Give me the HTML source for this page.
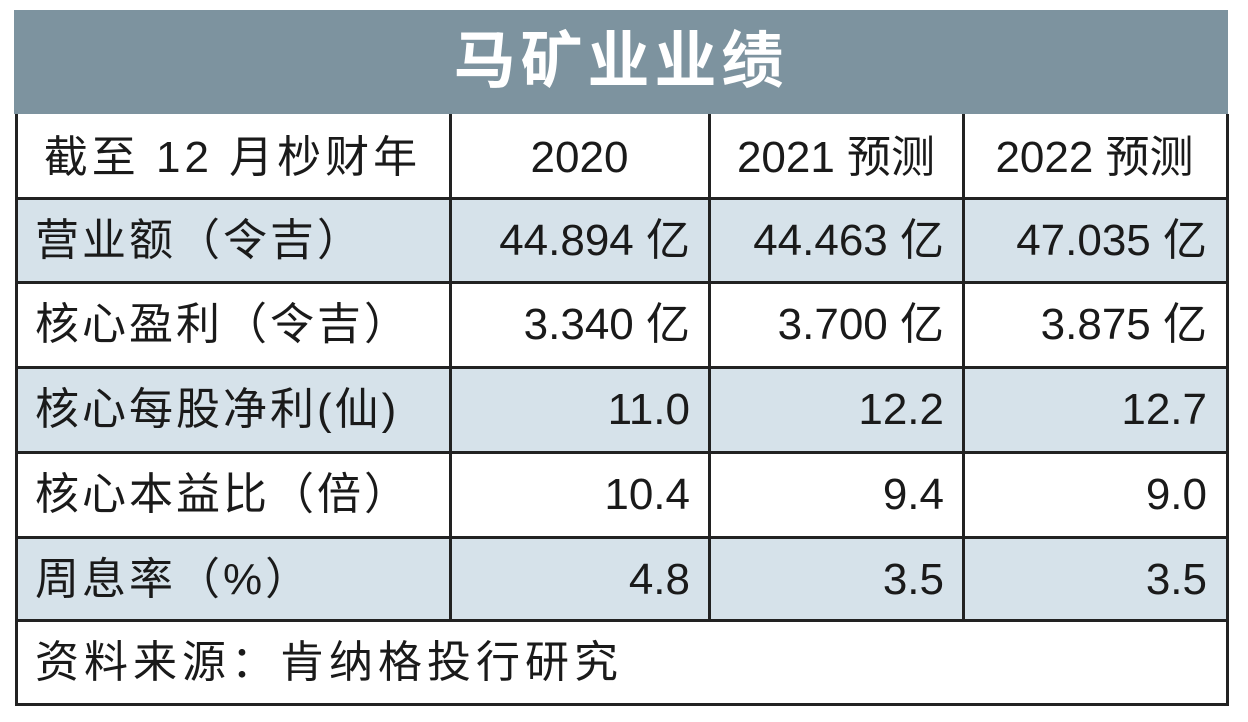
<!DOCTYPE html>
<html><head><meta charset="utf-8"><style>
body{margin:0;width:1248px;height:722px;background:#fff;position:relative;overflow:hidden;font-family:"Liberation Sans","Noto Sans CJK SC",sans-serif;color:#1a1a1a}
.t{position:absolute;left:14px;top:10px;width:1214px;height:104px;background:#7d939f;color:#fff;font-weight:bold;font-size:62px;text-align:center;line-height:104px;letter-spacing:5px}
.b{position:absolute;background:#222}
.r{position:absolute;left:15px;width:1211px}
.c{position:absolute;font-size:44px;white-space:nowrap;line-height:84px}
</style></head><body>
<div class="t">马矿业业绩</div>
<div id="tb"></div>
<script>
const cols=[15,450,709,963,1226];
const rows=[114,198,282,367,452,537,620,704];
const header=["截至 12 月杪财年","2020","2021 预测","2022 预测"];
const labels=["营业额（令吉）","核心盈利（令吉）","核心每股净利(仙)","核心本益比（倍）","周息率（%）"];
const v2020=["44.894 亿","3.340 亿","11.0","10.4","4.8"];
const v2021=["44.463 亿","3.700 亿","12.2","9.4","3.5"];
const v2022=["47.035 亿","3.875 亿","12.7","9.0","3.5"];
const tb=document.getElementById('tb');
function add(cls,style,text,name){const d=document.createElement('div');d.className=cls;d.style.cssText=style;if(text!==undefined)d.textContent=text;


tb.appendChild(d);return d;}
for(let i=0;i<5;i++){if(i%2===0)add('r',`top:${rows[i+1]}px;height:${rows[i+2]-rows[i+1]}px;background:#d6e2ea`,undefined,'row-shade');}
add('c',`left:${cols[0]}px;width:${cols[1]-cols[0]}px;top:${rows[0]+2}px;text-align:center;letter-spacing:4px`,header[0],'header-year-label');
for(let j=1;j<4;j++)add('c',`left:${cols[j]}px;width:${cols[j+1]-cols[j]}px;top:${rows[0]+2}px;text-align:center`,header[j],'header-col-'+j);
const vals=[v2020,v2021,v2022];
for(let i=0;i<5;i++){const top=rows[i+1]+1;
add('c',`left:${cols[0]+20}px;top:${top}px;letter-spacing:3px`,labels[i],'row-label');
for(let j=0;j<3;j++)add('c',`left:${cols[j+1]}px;width:${cols[j+2]-cols[j+1]-19}px;top:${top}px;text-align:right`,vals[j][i],'value-cell');}
add('c',`left:${cols[0]+20}px;top:${rows[6]+1}px;letter-spacing:5px`,"资料来源：肯纳格投行研究",'source-note');
for(let i=1;i<rows.length;i++)add('b',`left:${cols[0]}px;width:${cols[4]-cols[0]+3}px;top:${rows[i]-1}px;height:3px`,undefined,'h-line');
add('b',`left:${cols[0]}px;top:${rows[0]}px;width:3px;height:${rows[7]-rows[0]+2}px`,undefined,'v-line');
add('b',`left:${cols[4]}px;top:${rows[0]}px;width:3px;height:${rows[7]-rows[0]+2}px`,undefined,'v-line');
for(let j=1;j<4;j++)add('b',`left:${cols[j]-1}px;top:${rows[0]}px;width:3px;height:${rows[6]-rows[0]}px`,undefined,'v-line');
</script>
</body></html>
